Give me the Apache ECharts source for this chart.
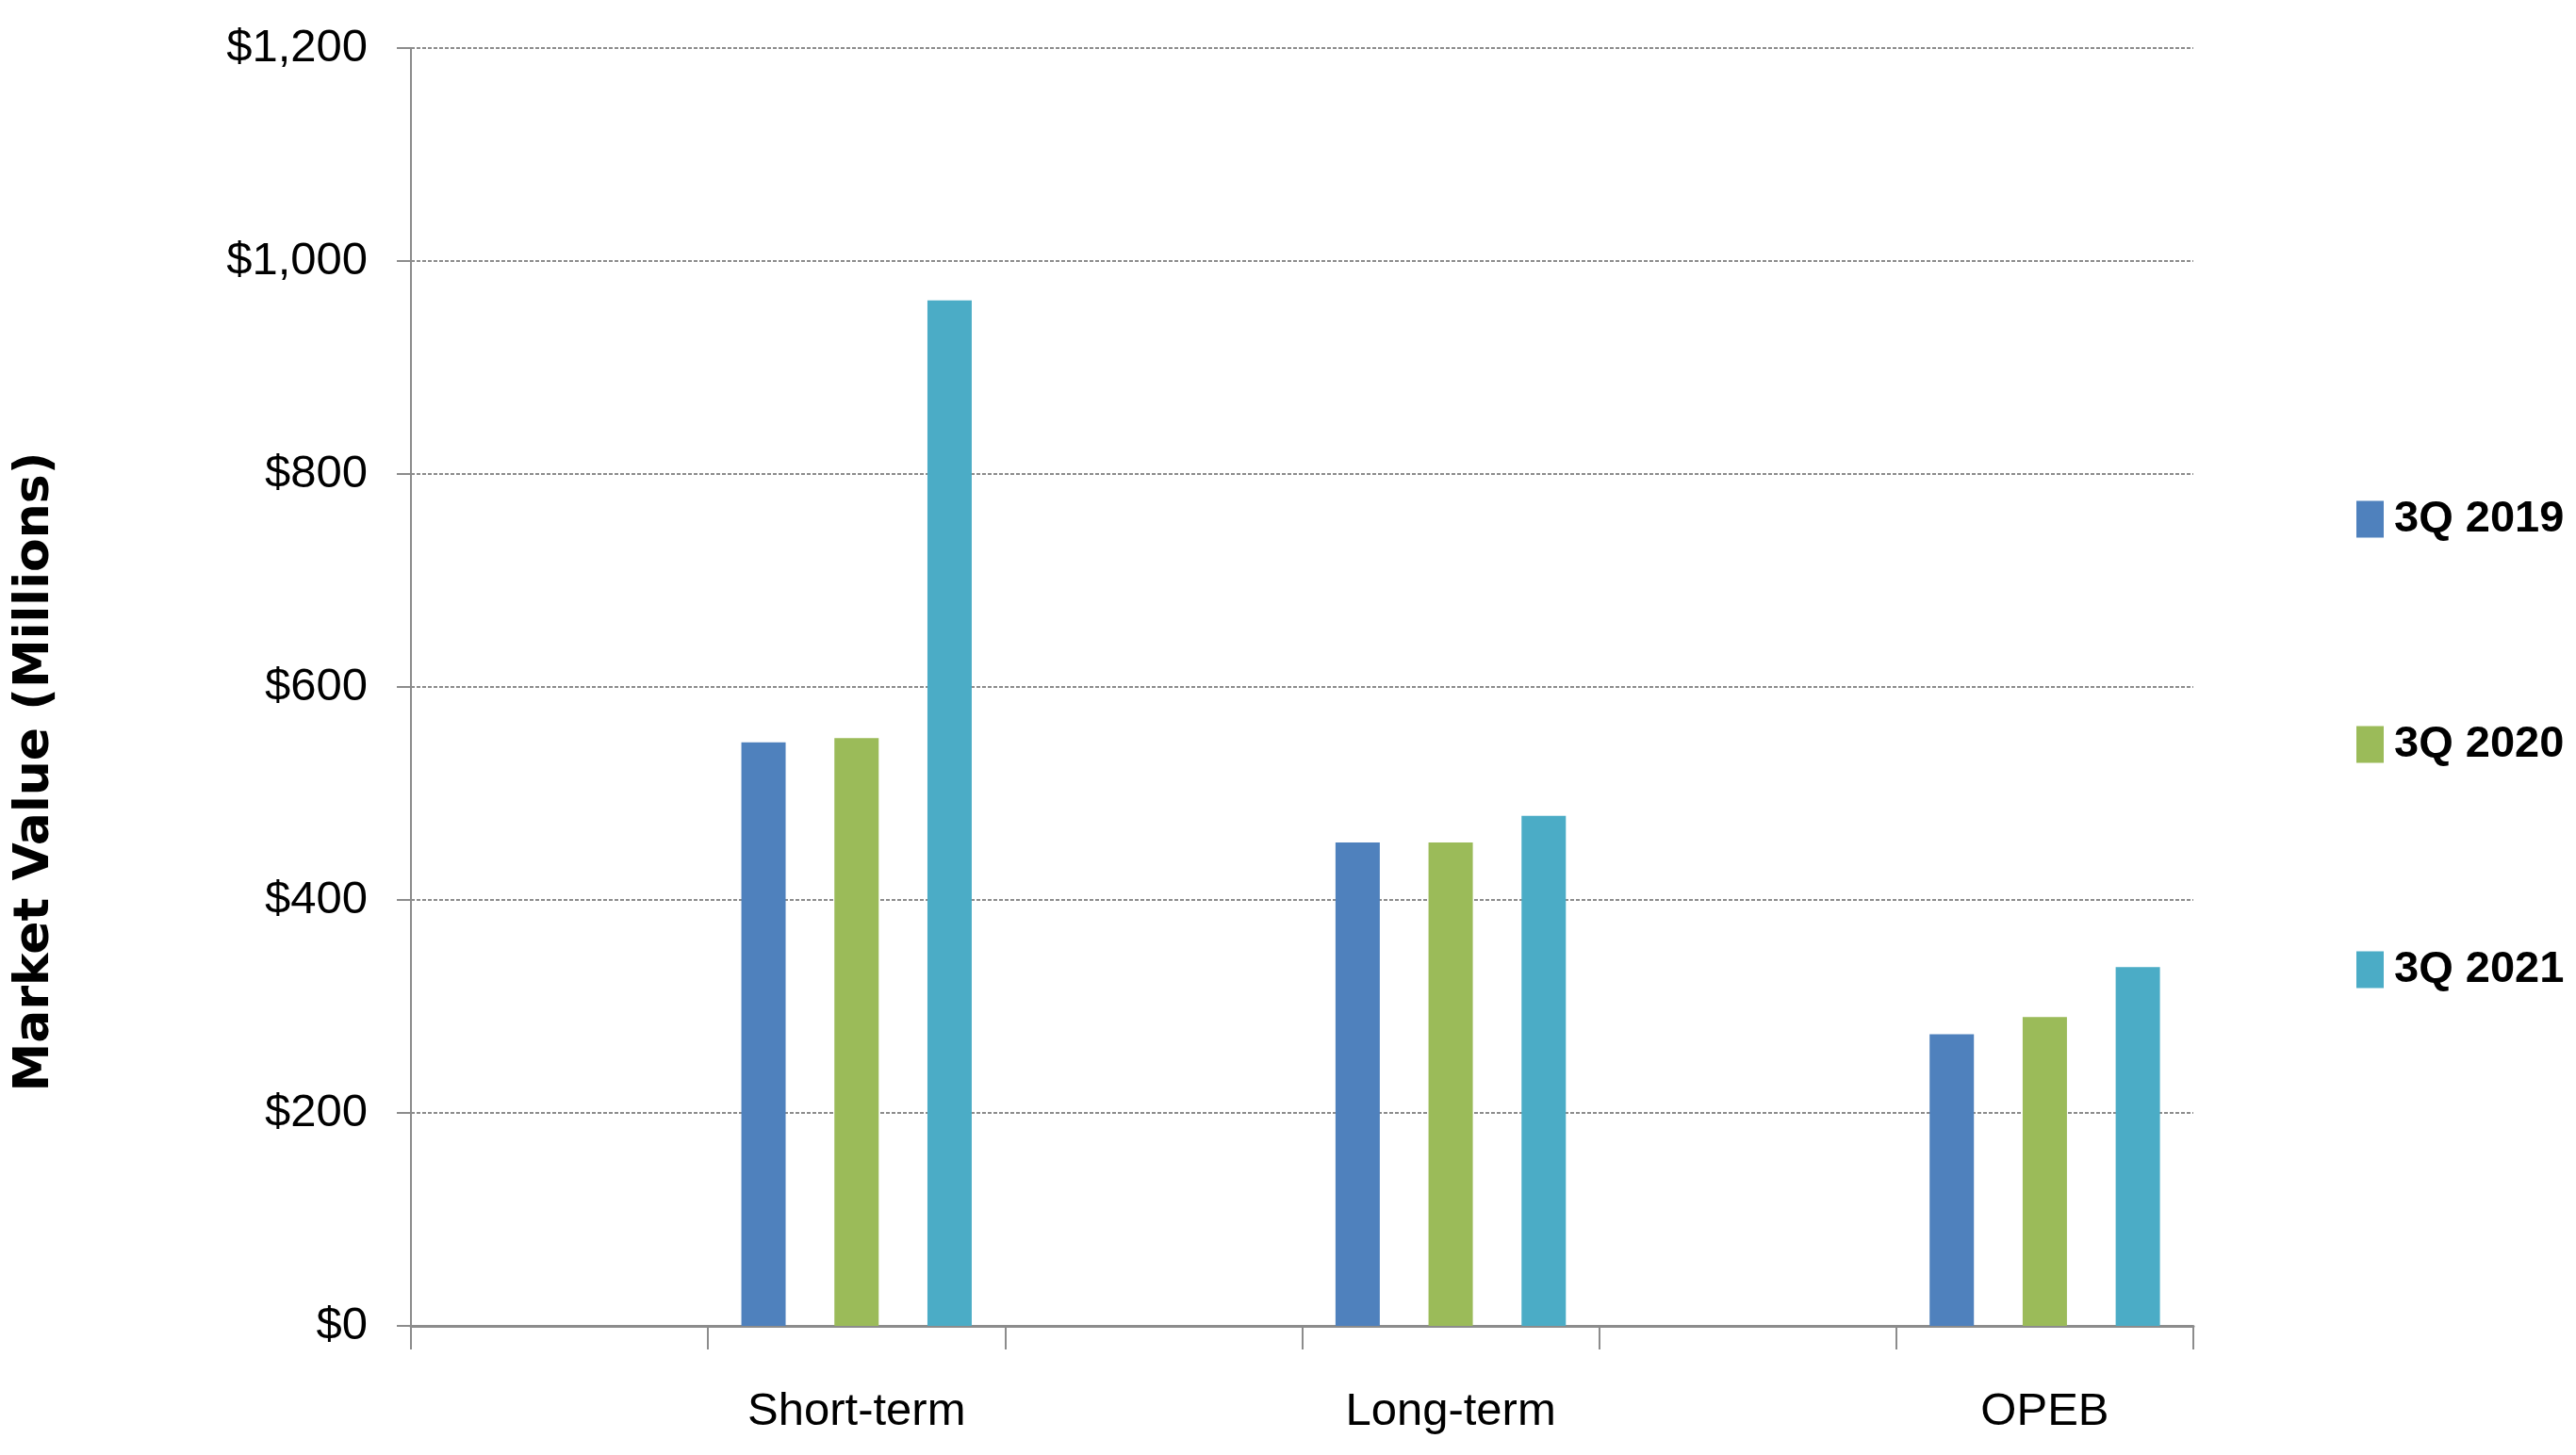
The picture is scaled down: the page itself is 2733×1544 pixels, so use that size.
<!DOCTYPE html>
<html><head><meta charset="utf-8">
<script src="https://cdn.jsdelivr.net/npm/echarts@6/dist/echarts.min.js"></script>
<style>html,body{margin:0;padding:0;background:#fff}#c{width:2733px;height:1544px}</style>
</head><body><div id="c"></div>
<script>
const categories = ['', 'Short-term', '', 'Long-term', '', 'OPEB'];
const seriesNames = ['3Q 2019', '3Q 2020', '3Q 2021'];
const q2019 = [null, 548, null, 454, null, 274];
const q2020 = [null, 552, null, 454, null, 290];
const q2021 = [null, 963, null, 479, null, 337];
const yMin = 0, yMax = 1200, yInterval = 200;
const yAxisTitle = 'Market Value (Millions)';
const colors = ['#4F81BD', '#9BBB59', '#4BACC6'];

const seriesData = [q2019, q2020, q2021];
const chart = echarts.init(document.getElementById('c'), null, {renderer: 'canvas'});
const labelFont = {fontFamily: '"Liberation Sans Narrow", "Liberation Sans", sans-serif', fontSize: 49, color: '#000'};
chart.setOption({
  animation: false,
  backgroundColor: '#fff',
  color: colors,
  grid: {left: 436, right: 406, top: 51, bottom: 137, containLabel: false},
  legend: {
    data: seriesNames, orient: 'vertical', left: 2495, top: 516,
    itemWidth: 29, itemHeight: 39, itemGap: 179, icon: 'rect',
    selectedMode: false,
    textStyle: {fontFamily: '"Liberation Sans Narrow", "Liberation Sans", sans-serif', fontWeight: 'bold', fontSize: 47, lineHeight: 60, color: '#000', padding: [0, 0, 0, 6]}
  },
  xAxis: {
    type: 'category', data: categories,
    axisLine: {lineStyle: {color: '#8c8c8c', width: 3}},
    axisTick: {show: true, length: 25, lineStyle: {color: '#8c8c8c', width: 2}},
    axisLabel: Object.assign({interval: 0, margin: 67}, labelFont),
    splitLine: {show: false}
  },
  yAxis: {
    type: 'value', min: yMin, max: yMax, interval: yInterval,
    axisLine: {show: true, lineStyle: {color: '#8c8c8c', width: 2}},
    axisTick: {show: true, length: 15, lineStyle: {color: '#8c8c8c', width: 2}},
    axisLabel: Object.assign({margin: 46, formatter: v => '$' + v.toLocaleString('en-US')}, labelFont),
    splitLine: {show: true, lineStyle: {color: '#8c8c8c', width: 2, type: [4, 2]}}
  },
  graphic: [{
    type: 'text', x: 37, y: 819, rotation: Math.PI / 2,
    style: {text: yAxisTitle, fontFamily: '"DejaVu Sans", sans-serif', fontWeight: 'bold', fontSize: 52,
      fill: '#000', align: 'center', verticalAlign: 'middle', textAlign: 'center', textVerticalAlign: 'middle'}
  }],
  series: seriesNames.map((n, i) => ({
    name: n, type: 'bar', data: seriesData[i], barWidth: 47, barGap: '110%',
    itemStyle: {color: colors[i]}
  }))
});
</script></body></html>
